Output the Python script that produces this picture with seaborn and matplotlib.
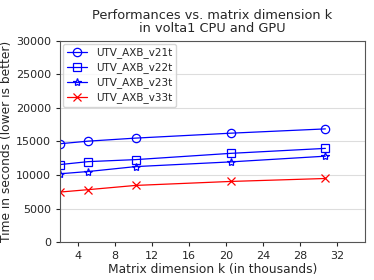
import matplotlib
matplotlib.use("Agg")
import matplotlib.pyplot as plt
import seaborn as sns

# matrix dimension k (thousands)
k = [2.048, 5.12, 10.24, 20.48, 30.72]

v21t = [14650, 15040, 15490, 16220, 16860]
v22t = [11550, 11990, 12290, 13220, 13960]
v23t = [10180, 10520, 11250, 11950, 12800]
v33t = [7460, 7820, 8450, 9040, 9480]

series = [
    ("UTV_AXB_v21t", v21t, "o", "blue"),
    ("UTV_AXB_v22t", v22t, "s", "blue"),
    ("UTV_AXB_v23t", v23t, "*", "blue"),
    ("UTV_AXB_v33t", v33t, "x", "red"),
]

sns.set_style("ticks")
plt.rcParams['font.family'] = ['DejaVu Sans']

fig, ax = plt.subplots(figsize=(3.74, 2.8), dpi=100)
fig.subplots_adjust(left=0.16, right=0.976, top=0.855, bottom=0.135)

for name, vals, mk, col in series:
    sns.lineplot(x=k, y=vals, ax=ax, color=col, marker=mk, markersize=6,
                 mfc='none', mec=col, mew=0.9, linewidth=0.9, label=name)

ax.set_xlim(2.048, 35)
ax.set_ylim(0, 30000)
ax.set_xticks([4, 8, 12, 16, 20, 24, 28, 32])
ax.set_yticks(range(0, 30001, 5000))
ax.yaxis.grid(True, color='#dddddd', linewidth=0.8)
ax.tick_params(labelsize=8, length=3)
for s in ax.spines.values():
    s.set_color('#555555')

ax.set_title("Performances vs. matrix dimension k\nin volta1 CPU and GPU", fontsize=9.3, linespacing=1.0)
ax.set_xlabel("Matrix dimension k (in thousands)", fontsize=8.8, labelpad=1)
ax.set_ylabel("Time in seconds (lower is better)", fontsize=8.8, labelpad=2)
ax.legend(loc='upper left', fontsize=7.5, handlelength=2, borderaxespad=0.3,
          labelspacing=0.4, borderpad=0.35, frameon=True)

plt.savefig("out.png", dpi=100)
plt.close()
